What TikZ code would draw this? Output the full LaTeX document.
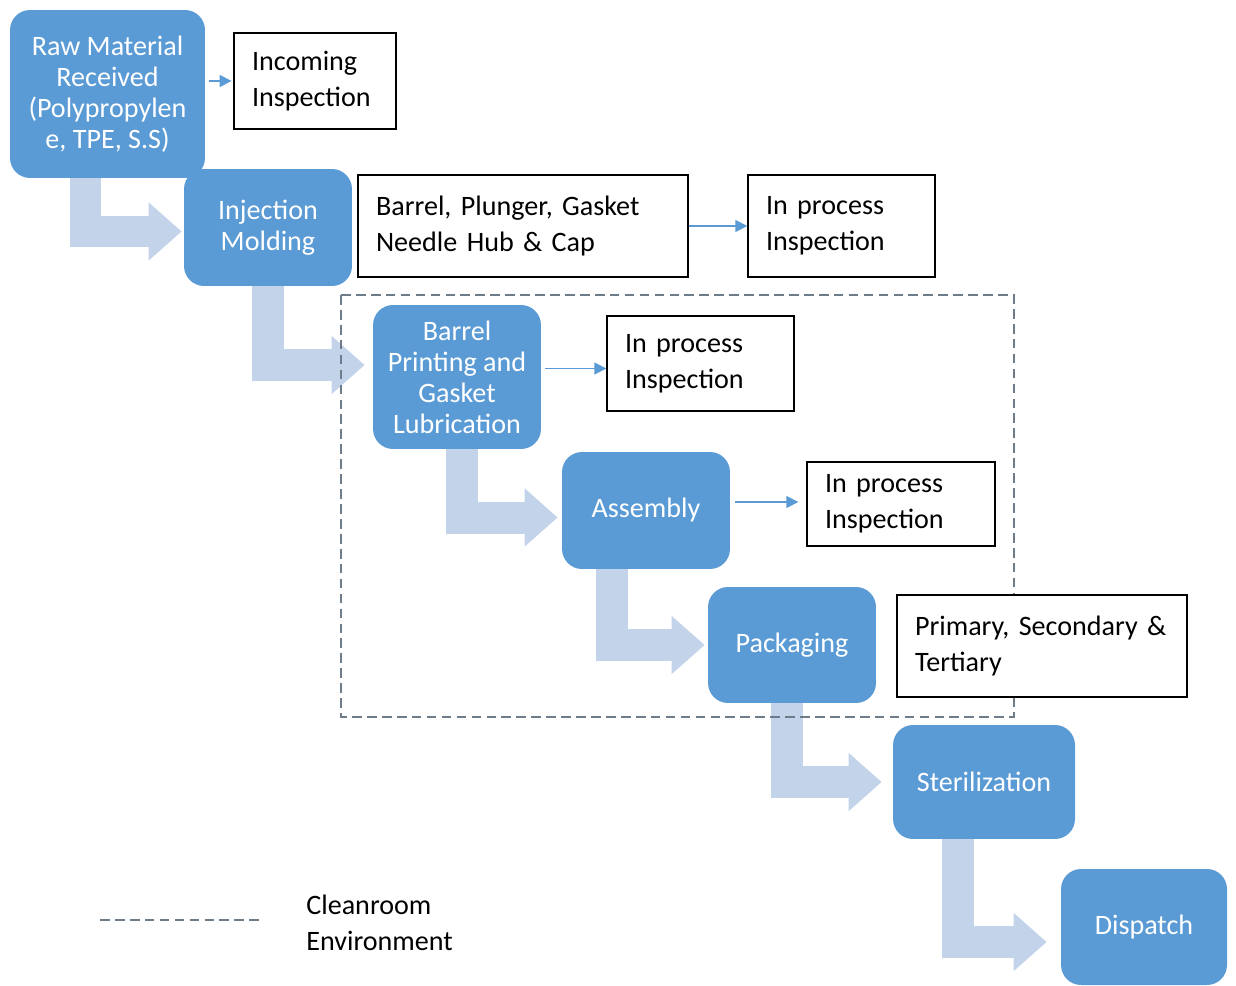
\documentclass[tikz,border=0pt]{standalone}
\usepackage{fontspec}
\setmainfont{Carlito}
\usetikzlibrary{arrows.meta,calc,backgrounds}
\definecolor{stageblue}{HTML}{5B9BD5}
\definecolor{flowblue}{HTML}{C2D3EA}
\definecolor{dashgray}{HTML}{6E7B88}
\frenchspacing

\begin{document}
\begin{tikzpicture}[x=0.02cm, y=-0.02cm,
  stage/.style={fill=stageblue, rounded corners=0.4cm, text=white, align=center,
    font=\fontsize{16}{17.6}\selectfont, inner sep=2pt},
  note/.style={draw=black, line width=0.8pt, fill=white, align=left,
    inner xsep=0.36cm, font=\fontsize{16}{20.5}\selectfont},
  arr/.style={stageblue, line width=0.9pt, -{Triangle[length=0.24cm,width=0.24cm]}},
  flow/.style={flowblue, line width=0.64cm, -{Triangle[length=0.66cm,width=1.12cm]}},
  clean/.style={dashgray, line width=0.7pt, dash pattern=on 5.5pt off 3pt},
]
\useasboundingbox (0,0) rectangle (1236,986);

% process stages
\node (raw) [stage, minimum width=3.9cm, minimum height=3.36cm] at (107.5,94)
  {Raw Material\\Received\\(Polypropylen\\e, TPE, S.S)};
\node (inj) [stage, minimum width=3.36cm, minimum height=2.34cm] at (268,227.5) {Injection\\Molding};
\node (print) [stage, minimum width=3.36cm, minimum height=2.88cm] at (457,377)
  {Barrel\\Printing and\\Gasket\\Lubrication};
\node (asm) [stage, minimum width=3.36cm, minimum height=2.34cm] at (646,510.5) {Assembly};
\node (pack) [stage, minimum width=3.36cm, minimum height=2.32cm] at (792,645) {Packaging};
\node (ster) [stage, minimum width=3.64cm, minimum height=2.28cm] at (984,782) {Sterilization};
\node (disp) [stage, minimum width=3.32cm, minimum height=2.32cm] at (1144,927) {Dispatch};

% side notes
\node (incoming) [note, text width=2.52cm, minimum height=1.92cm] at (315,81) {Incoming\\Inspection};
\node (parts) [note, text width=5.88cm, minimum height=2.04cm] at (523,226)
  {Barrel, Plunger, Gasket\\Needle Hub \& Cap};
\node (insp1) [note, text width=3.02cm, minimum height=2.04cm] at (841.5,226) {In process\\Inspection};
\node (insp2) [note, text width=3.02cm, minimum height=1.9cm] at (700.5,363.5) {In process\\Inspection};
\node (insp3) [note, text width=3.04cm, minimum height=1.68cm] at (901,504) {In process\\Inspection};
\node (primary) [note, text width=5.08cm, minimum height=2.04cm] at (1042,646)
  {Primary, Secondary \&\\Tertiary};

\draw[arr, shorten <=2pt, shorten >=1pt] (raw.east |- incoming.west) -- (incoming.west);
\draw[arr] (parts.east) -- (insp1.west);
\draw[arr] ($(print.east |- insp2.west)+(4,5)$) -- ($(insp2.west)+(0,5)$);
\draw[arr] ($(asm.east |- insp3.west)+(5,-2)$) -- ($(insp3.west)+(-8,-2)$);

\begin{scope}[on background layer]
  \foreach \a/\b/\dx/\tx/\ty in {raw/inj/-22/-2/4, inj/print/0/-8/-12, print/asm/5/-4/7,
      asm/pack/-34/-3/0, pack/ster/-5/-11/0, ster/disp/-26/-14/15} {
    \draw[flow] ($(\a.south)+(\dx,0)$) |- ($(\b.west)+(\tx,\ty)$);
  }
  % cleanroom area
  \draw[clean] (341,295) rectangle (1014,717);
\end{scope}

% legend
\coordinate (lega) at (100,920);
\coordinate (legb) at (262,920);
\draw[clean] (lega) -- (legb);
\node (legtext) [anchor=west, align=left, inner sep=0pt, font=\fontsize{16}{20.5}\selectfont]
  at (306,923) {Cleanroom\\Environment};

\end{tikzpicture}
\end{document}
